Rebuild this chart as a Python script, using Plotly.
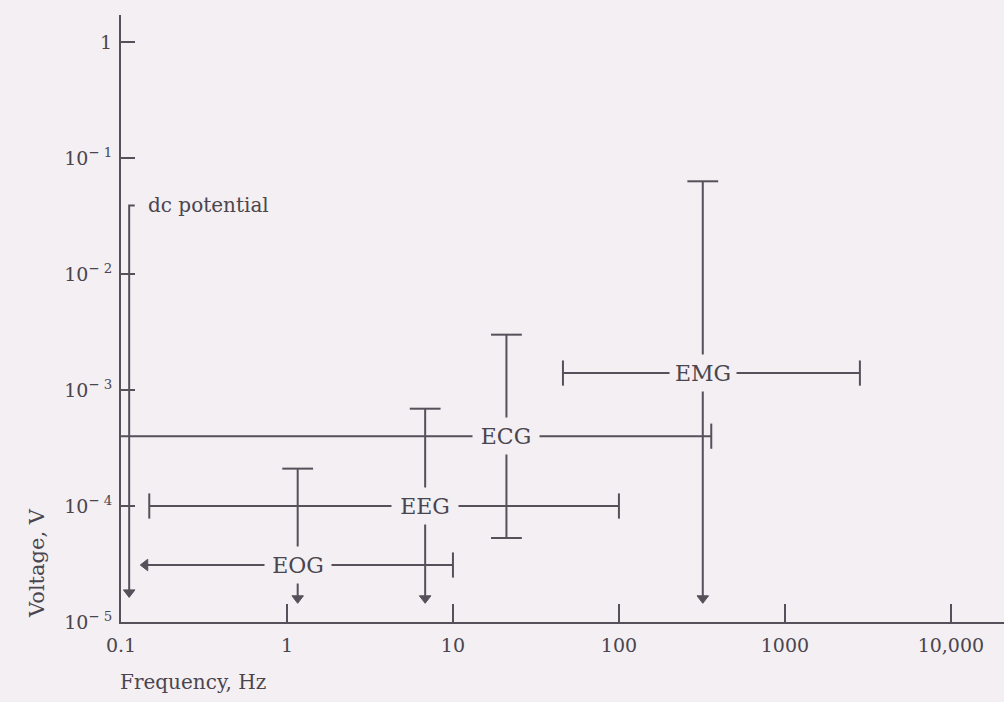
import numpy as np
import plotly.graph_objects as go

# Frequency / amplitude ranges of common bioelectric signals
signals = ["EOG", "EEG", "ECG", "EMG"]
center_freq_hz = [1.16, 6.8, 21.0, 320.0]          # where the voltage bar sits
center_volt_v = [3.1e-5, 1.0e-4, 4.0e-4, 1.4e-3]   # where the frequency bar sits
freq_low_hz = [0.14, 0.148, 0.1, 46.0]
freq_high_hz = [10.0, 100.0, 360.0, 2830.0]
volt_low_v = [1.6e-5, 1.6e-5, 5.3e-5, 1.6e-5]
volt_high_v = [2.1e-4, 6.9e-4, 3.0e-3, 0.063]
freq_open_below = [True, False, True, False]
volt_open_below = [True, True, False, True]

# dc potential: a single frequency, amplitude open below
dc_label = "dc potential"
dc_freq_hz = 0.112
dc_hook_freq_hz = 0.121
dc_volt_high_v = 0.039
dc_volt_low_v = 1.8e-5

x_tick_vals = [0.1, 1, 10, 100, 1000, 10000]
x_tick_text = ["0.1", "1", "10", "100", "1000", "10,000"]
y_tick_vals = [1e-5, 1e-4, 1e-3, 1e-2, 1e-1, 1]
y_tick_text = ["10<sup>− 5</sup>", "10<sup>− 4</sup>", "10<sup>− 3</sup>",
               "10<sup>− 2</sup>", "10<sup>− 1</sup>", "1"]

X_RANGE = [-1.0, 4.32]
Y_RANGE = [-5.0, 0.233]

W, H = 1004, 702
M_L, M_R, M_T, M_B = 121, 0, 15, 80
PLOT_W = W - M_L - M_R
PLOT_H = H - M_T - M_B

BG = "#f3eff2"
INK = "#55505a"
TEXT = "#4a454e"
SERIF = "DejaVu Serif, Liberation Serif, serif"


def paper_x(px):
    return (px - M_L) / PLOT_W


def paper_y(py):
    return (H - M_B - py) / PLOT_H


fig = go.Figure()

# end-point markers collected by kind
cap_h_x, cap_h_y = [], []    # caps on vertical bars (horizontal tick)
cap_v_x, cap_v_y = [], []    # caps on horizontal bars (vertical tick)
arr_d_x, arr_d_y = [], []    # downward arrows
arr_l_x, arr_l_y = [], []    # leftward arrows

line_style = dict(color=INK, width=2)

for i, name in enumerate(signals):
    # frequency range (horizontal bar)
    fig.add_trace(go.Scatter(
        x=[freq_low_hz[i], freq_high_hz[i]],
        y=[center_volt_v[i], center_volt_v[i]],
        mode="lines", line=line_style, hoverinfo="skip", showlegend=False))
    # voltage range (vertical bar)
    fig.add_trace(go.Scatter(
        x=[center_freq_hz[i], center_freq_hz[i]],
        y=[volt_low_v[i], volt_high_v[i]],
        mode="lines", line=line_style, hoverinfo="skip", showlegend=False))

    # frequency ends
    cap_v_x.append(freq_high_hz[i]); cap_v_y.append(center_volt_v[i])
    if freq_open_below[i]:
        if np.log10(freq_low_hz[i]) > X_RANGE[0] + 0.01:
            arr_l_x.append(freq_low_hz[i]); arr_l_y.append(center_volt_v[i])
    else:
        cap_v_x.append(freq_low_hz[i]); cap_v_y.append(center_volt_v[i])

    # voltage ends
    cap_h_x.append(center_freq_hz[i]); cap_h_y.append(volt_high_v[i])
    if volt_open_below[i]:
        arr_d_x.append(center_freq_hz[i]); arr_d_y.append(volt_low_v[i])
    else:
        cap_h_x.append(center_freq_hz[i]); cap_h_y.append(volt_low_v[i])

# dc potential line with its small hook at the top
fig.add_trace(go.Scatter(
    x=[dc_freq_hz, dc_freq_hz, dc_hook_freq_hz],
    y=[dc_volt_low_v, dc_volt_high_v, dc_volt_high_v],
    mode="lines", line=line_style, hoverinfo="skip", showlegend=False))
arr_d_x.append(dc_freq_hz); arr_d_y.append(dc_volt_low_v)

fig.add_trace(go.Scatter(
    x=cap_h_x, y=cap_h_y, mode="markers", hoverinfo="skip", showlegend=False,
    marker=dict(symbol="line-ew", size=22, line=dict(color=INK, width=2))))
fig.add_trace(go.Scatter(
    x=cap_v_x, y=cap_v_y, mode="markers", hoverinfo="skip", showlegend=False,
    marker=dict(symbol="line-ns", size=18, line=dict(color=INK, width=2))))
fig.add_trace(go.Scatter(
    x=arr_d_x, y=arr_d_y, mode="markers", hoverinfo="skip", showlegend=False,
    marker=dict(symbol="triangle-down", size=10, color=INK,
                line=dict(color=INK, width=1))))
fig.add_trace(go.Scatter(
    x=arr_l_x, y=arr_l_y, mode="markers", hoverinfo="skip", showlegend=False,
    marker=dict(symbol="triangle-left", size=10, color=INK,
                line=dict(color=INK, width=1))))

annotations = []
# signal names sit on the crossing point, masking the lines beneath
for i, name in enumerate(signals):
    annotations.append(dict(
        x=np.log10(center_freq_hz[i]), y=np.log10(center_volt_v[i]),
        xref="x", yref="y", text=name, showarrow=False,
        font=dict(family=SERIF, size=22, color=TEXT),
        bgcolor=BG, width=60, height=30, borderpad=3,
        xanchor="center", yanchor="middle"))

annotations.append(dict(
    x=np.log10(dc_hook_freq_hz), y=np.log10(dc_volt_high_v),
    xref="x", yref="y", text=dc_label, showarrow=False, xshift=11,
    font=dict(family=SERIF, size=20, color=TEXT),
    xanchor="left", yanchor="middle"))

annotations.append(dict(
    x=paper_x(118), y=paper_y(682), xref="paper", yref="paper",
    text="Frequency, Hz", showarrow=False,
    font=dict(family=SERIF, size=20, color=TEXT),
    xanchor="left", yanchor="middle"))

annotations.append(dict(
    x=paper_x(37), y=paper_y(620), xref="paper", yref="paper",
    text="Voltage, V", showarrow=False, textangle=-90,
    font=dict(family=SERIF, size=21, color=TEXT),
    xanchor="center", yanchor="bottom"))

fig.update_layout(
    width=W, height=H,
    margin=dict(l=M_L, r=M_R, t=M_T, b=M_B),
    paper_bgcolor=BG, plot_bgcolor=BG,
    annotations=annotations,
    xaxis=dict(
        type="log", range=X_RANGE, showgrid=False, zeroline=False,
        showline=True, linecolor=INK, linewidth=2,
        ticks="inside", ticklen=18, tickwidth=2, tickcolor=INK,
        tickvals=x_tick_vals, ticktext=x_tick_text,
        tickfont=dict(family=SERIF, size=19, color=TEXT),
        ticklabelstandoff=5),
    yaxis=dict(
        type="log", range=Y_RANGE, showgrid=False, zeroline=False,
        showline=True, linecolor=INK, linewidth=2,
        ticks="inside", ticklen=14, tickwidth=2, tickcolor=INK,
        tickvals=y_tick_vals, ticktext=y_tick_text,
        tickfont=dict(family=SERIF, size=19, color=TEXT),
        ticklabelstandoff=3),
)

fig.write_html("out.html")
